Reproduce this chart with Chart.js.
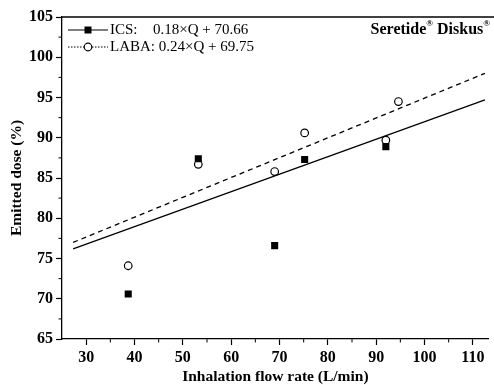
<!DOCTYPE html>
<html>
<head>
<meta charset="utf-8">
<script src="https://cdn.jsdelivr.net/npm/chart.js@4.4.0/dist/chart.umd.min.js"></script>
<style>
body { margin: 0; background: #fff; }
#wrap { width: 494px; height: 385px; position: relative; }
</style>
</head>
<body>
<div id="wrap"><canvas id="myChart"></canvas></div>
<script>
// measured points (flow rate L/min, emitted dose %)
var icsFlow = [38.7, 53.2, 69.0, 75.2, 92.0];
var icsDose = [70.6, 87.4, 76.6, 87.3, 88.9];
var labaFlow = [38.7, 53.2, 69.0, 75.2, 92.0, 94.6];
var labaDose = [74.1, 86.7, 85.8, 90.6, 89.7, 94.5];

// regression lines, end points
var fitFlow = [27.3, 112.5];
var icsFit = [76.2, 94.7];
var labaFit = [77.0, 98.0];

var xTicks = [30, 40, 50, 60, 70, 80, 90, 100, 110];
var yTicks = [65, 70, 75, 80, 85, 90, 95, 100, 105];

var legendLabels = ["ICS:", "0.18\u00d7Q + 70.66", "LABA: 0.24\u00d7Q + 69.75"];

var serif = "'Liberation Serif', 'DejaVu Serif', serif";

function pts(xs, ys) {
	return xs.map(function(x, i) { return { x : x, y : ys[i] }; });
}

var extras = {
	id : 'extras',
	afterDraw : function(chart) {
		var ctx = chart.ctx;
		var a = chart.chartArea;
		var xs = chart.scales.x, ys = chart.scales.y;
		ctx.save();
		ctx.strokeStyle = '#000';
		ctx.lineWidth = 1.3;
		// top frame line
		ctx.beginPath();
		ctx.moveTo(a.left, a.top);
		ctx.lineTo(494, a.top);
		ctx.stroke();
		// minor ticks
		ctx.lineWidth = 1;
		ctx.beginPath();
		for (var v = 67.5; v < 105; v += 5) {
			var py = ys.getPixelForValue(v);
			ctx.moveTo(a.left, py);
			ctx.lineTo(a.left - 3.5, py);
		}
		for (var u = 35; u < 113; u += 10) {
			var px = xs.getPixelForValue(u);
			ctx.moveTo(px, a.bottom);
			ctx.lineTo(px, a.bottom + 3.5);
		}
		ctx.stroke();

		// legend
		ctx.fillStyle = '#000';
		ctx.font = '15px ' + serif;
		ctx.textBaseline = 'middle';
		var r1 = 30, r2 = 47;
		ctx.lineWidth = 1.2;
		ctx.beginPath();
		ctx.moveTo(68, r1);
		ctx.lineTo(108, r1);
		ctx.stroke();
		ctx.fillRect(84.5, r1 - 3.5, 7, 7);
		ctx.fillText(legendLabels[0], 110, r1);
		ctx.fillText(legendLabels[1], 153, r1);

		ctx.setLineDash([1.5, 1.5]);
		ctx.beginPath();
		ctx.moveTo(68, r2);
		ctx.lineTo(108, r2);
		ctx.stroke();
		ctx.setLineDash([]);
		ctx.beginPath();
		ctx.arc(88, r2, 3.8, 0, Math.PI * 2);
		ctx.fillStyle = '#fff';
		ctx.fill();
		ctx.stroke();
		ctx.fillStyle = '#000';
		ctx.fillText(legendLabels[2], 110, r2);

		// product name, top right
		var parts = [ [ 'Seretide', 16, 0 ], [ '\u00ae', 9, -6 ],
				[ ' Diskus', 16, 0 ], [ '\u00ae', 9, -6 ] ];
		var total = 0;
		parts.forEach(function(p) {
			ctx.font = 'bold ' + p[1] + 'px ' + serif;
			total += ctx.measureText(p[0]).width;
		});
		var x = 490 - total;
		parts.forEach(function(p) {
			ctx.font = 'bold ' + p[1] + 'px ' + serif;
			ctx.fillText(p[0], x, r1 + p[2]);
			x += ctx.measureText(p[0]).width;
		});
		ctx.restore();
	}
};

var ctxD = document.getElementById("myChart").getContext('2d');
var myChart = new Chart(ctxD, {
	type : 'scatter',
	data : {
		datasets : [ {
			label : 'ICS fit',
			type : 'line',
			data : pts(fitFlow, icsFit),
			borderColor : '#000',
			borderWidth : 1.3,
			pointRadius : 0,
			fill : false
		}, {
			label : 'LABA fit',
			type : 'line',
			data : pts(fitFlow, labaFit),
			borderColor : '#000',
			borderWidth : 1.3,
			borderDash : [ 5, 4 ],
			pointRadius : 0,
			fill : false
		}, {
			label : 'ICS',
			data : pts(icsFlow, icsDose),
			pointStyle : 'rect',
			pointRadius : 5,
			backgroundColor : '#000',
			borderColor : '#000',
			borderWidth : 0
		}, {
			label : 'LABA',
			data : pts(labaFlow, labaDose),
			pointStyle : 'circle',
			pointRadius : 3.8,
			backgroundColor : '#fff',
			borderColor : '#000',
			borderWidth : 1.2
		} ]
	},
	options : {
		responsive : true,
		maintainAspectRatio : false,
		animation : false,
		layout : {
			padding : { top : 17, right : 0, left : 0, bottom : 0 }
		},
		plugins : {
			legend : { display : false },
			tooltip : { enabled : false }
		},
		scales : {
			x : {
				type : 'linear',
				min : 25,
				max : 113.3,
				afterBuildTicks : function(s) {
					s.ticks = xTicks.map(function(v) { return { value : v }; });
				},
				afterFit : function(s) { s.height = 46; },
				grid : { drawOnChartArea : false, tickLength : 6, color : '#000', tickWidth : 1.2 },
				border : { color : '#000', width : 1.3 },
				ticks : {
					color : '#000',
					padding : 3,
					maxRotation : 0,
					font : { family : serif, size : 16, weight : 'bold' }
				},
				title : {
					display : true,
					text : 'Inhalation flow rate (L/min)',
					color : '#000',
					padding : 0,
					font : { family : serif, size : 15.5, weight : 'bold', lineHeight : 1.0 }
				}
			},
			y : {
				type : 'linear',
				min : 65,
				max : 105,
				afterBuildTicks : function(s) {
					s.ticks = yTicks.map(function(v) { return { value : v }; });
				},
				afterFit : function(s) { s.width = 62; },
				grid : { drawOnChartArea : false, tickLength : 6, color : '#000', tickWidth : 1.2 },
				border : { color : '#000', width : 1.3 },
				ticks : {
					color : '#000',
					padding : 3,
					font : { family : serif, size : 16, weight : 'bold' }
				},
				title : {
					display : true,
					text : 'Emitted dose (%)',
					color : '#000',
					padding : { top : 9, bottom : 0 },
					font : { family : serif, size : 15.5, weight : 'bold', lineHeight : 1.0 }
				}
			}
		}
	},
	plugins : [ extras ]
});
</script>
</body>
</html>
